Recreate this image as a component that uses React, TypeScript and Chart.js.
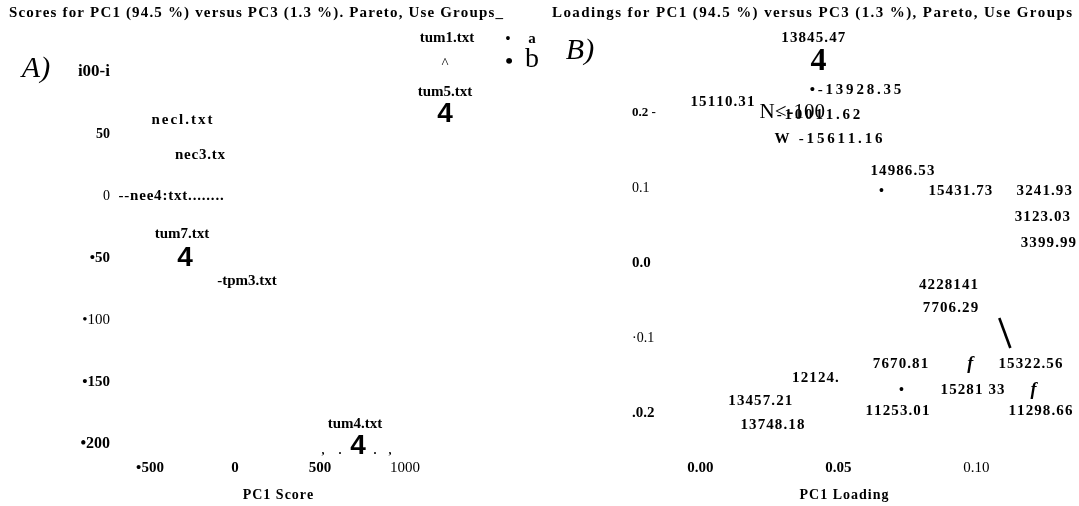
import { useEffect, useRef } from "react";
import { Chart, registerables } from "chart.js";
Chart.register(...registerables);

// ---------- Panel A: scores ----------
const scoreTickValuesY = [100, 50, 0, -50, -100, -150, -200];
const scoreTickLabelsY = ["i00-i", "50", "0", "•50", "•100", "•150", "•200"];
const scoreTickValuesX = [-500, 0, 500, 1000];
const scoreTickLabelsX = ["•500", "0", "500", "1000"];

const scoreTexts = ["tum1.txt", "^", "tum5.txt", "4", "necl.txt", "nec3.tx", "--nee4:txt........", "tum7.txt", "4", "-tpm3.txt", "tum4.txt", "4", ",", ".", ".", ","];
const scoreX = [1247, 1235, 1235, 1235, -312, -206, -376, -312, -294, 71, 706, 724, 518, 618, 824, 912];
const scoreY = [127, 106, 84, 66, 61, 33, 0, -31, -50, -69, -184, -202, -206, -206, -206, -206];
const scoreKinds = ["name", "caret", "name", "marker", "nameWide", "nameMid", "nameMid", "name", "marker", "name", "name", "marker", "tiny", "tiny", "tiny", "tiny"];

// ---------- Panel B: loadings ----------
const loadTickValuesY = [0.2, 0.1, 0, -0.1, -0.2];
const loadTickLabelsY = ["0.2 -", "0.1", "0.0", "·0.1", ".0.2"];
const loadTickValuesX = [0, 0.05, 0.1];
const loadTickLabelsX = ["0.00", "0.05", "0.10"];

const loadTexts = ["13845.47", "4", "•-13928.35", "15110.31", "-10011.62", "N<-100", "W -15611.16", "14986.53", "•", "15431.73", "3241.93", "3123.03", "3399.99", "4228141", "7706.29", "7670.81", "f", "15322.56", "12124.", "•", "15281 33", "f", "13457.21", "11253.01", "11298.66", "13748.18"];
const loadX = [0.0409, 0.0428, 0.0562, 0.008, 0.0428, 0.0333, 0.0464, 0.0732, 0.0656, 0.0942, 0.1246, 0.1239, 0.1261, 0.0899, 0.0906, 0.0725, 0.0978, 0.1196, 0.0417, 0.0728, 0.0986, 0.1207, 0.0217, 0.0714, 0.1232, 0.0261];
const loadY = [0.3, 0.268, 0.231, 0.215, 0.197, 0.201, 0.165, 0.123, 0.095, 0.096, 0.096, 0.061, 0.027, -0.029, -0.06, -0.135, -0.135, -0.135, -0.153, -0.17, -0.17, -0.17, -0.184, -0.198, -0.198, -0.216];
const loadKinds = ["num", "bigMarker", "numSpaced", "num", "numSpaced", "bigNormal", "numSpaced", "num", "dot", "num", "num", "num", "num", "num", "num", "num", "f", "num", "num", "dot", "num", "f", "num", "num", "num", "num"];
const loadStrokeX = [0.1083, 0.1123];
const loadStrokeY = [-0.0733, -0.1133];

// ---------- styles ----------
const SERIF = "'Liberation Serif', 'Times New Roman', serif";
const SANS = "'Liberation Sans', Arial, sans-serif";
const kindStyles: Record<string, { font: string; spacing: number }> = {
  name: { font: `bold 15px ${SERIF}`, spacing: 0 },
  nameWide: { font: `bold 15px ${SERIF}`, spacing: 2 },
  nameMid: { font: `bold 15px ${SERIF}`, spacing: 0.8 },
  marker: { font: `bold 28px ${SANS}`, spacing: 0 },
  caret: { font: `15px ${SERIF}`, spacing: 0 },
  tiny: { font: `bold 12px ${SERIF}`, spacing: 0 },
  num: { font: `bold 15px ${SERIF}`, spacing: 1.1 },
  numSpaced: { font: `bold 15px ${SERIF}`, spacing: 2.8 },
  bigMarker: { font: `bold 32px ${SERIF}`, spacing: 0 },
  bigNormal: { font: `21px ${SERIF}`, spacing: 0 },
  dot: { font: `bold 14px ${SERIF}`, spacing: 0 },
  f: { font: `italic bold 18px ${SERIF}`, spacing: 0 },
};

function drawSpaced(ctx: CanvasRenderingContext2D, text: string, cx: number, cy: number, font: string, spacing: number) {
  ctx.save();
  ctx.font = font;
  ctx.textBaseline = "middle";
  ctx.textAlign = "left";
  ctx.fillStyle = "#000";
  const chars = Array.from(text);
  const widths = chars.map((c) => ctx.measureText(c).width);
  const total = widths.reduce((a, b) => a + b, 0) + spacing * (chars.length - 1);
  let x = cx - total / 2;
  chars.forEach((c, i) => {
    ctx.fillText(c, x, cy);
    x += widths[i] + spacing;
  });
  ctx.restore();
}

function drawFit(ctx: CanvasRenderingContext2D, text: string, x0: number, x1: number, cy: number, font: string) {
  ctx.save();
  ctx.font = font;
  const chars = Array.from(text);
  const natural = chars.reduce((a, c) => a + ctx.measureText(c).width, 0);
  ctx.restore();
  const spacing = (x1 - x0 - natural) / Math.max(chars.length - 1, 1);
  drawSpaced(ctx, text, (x0 + x1) / 2, cy, font, spacing);
}

const textMarksPlugin = {
  id: "textMarks",
  afterDatasetsDraw(chart: any) {
    const ctx = chart.ctx as CanvasRenderingContext2D;
    chart.data.datasets.forEach((ds: any, di: number) => {
      if (!ds.texts) return;
      const meta = chart.getDatasetMeta(di);
      meta.data.forEach((pt: any, i: number) => {
        const st = kindStyles[ds.kinds[i]];
        drawSpaced(ctx, ds.texts[i], pt.x, pt.y, st.font, st.spacing);
      });
    });
  },
};

function decorPlugin(draw: (ctx: CanvasRenderingContext2D) => void) {
  return {
    id: "decor",
    afterDraw(chart: any) {
      draw(chart.ctx);
    },
  };
}

function fixedAxis(size: number, vertical: boolean) {
  return (scale: any) => {
    if (vertical) scale.width = size;
    else scale.height = size;
    scale.paddingTop = 0;
    scale.paddingBottom = 0;
    scale.paddingLeft = 0;
    scale.paddingRight = 0;
  };
}

function setTicks(values: number[]) {
  return (scale: any) => {
    scale.ticks = values.map((v) => ({ value: v }));
  };
}

function makeScale(opts: {
  min: number; max: number; values: number[]; labels: string[]; sizes: number[]; bold: boolean[];
  vertical: boolean; size: number; padding: number; crossAlign?: string;
}) {
  return {
    type: "linear",
    min: opts.min,
    max: opts.max,
    grid: { display: false, drawTicks: false },
    border: { display: false },
    afterBuildTicks: setTicks(opts.values),
    afterFit: fixedAxis(opts.size, opts.vertical),
    ticks: {
      autoSkip: false,
      maxRotation: 0,
      minRotation: 0,
      padding: opts.padding,
      color: "#000",
      crossAlign: opts.crossAlign || "near",
      callback: (_v: any, i: number) => opts.labels[i],
      font: (c: any) => ({
        family: SERIF,
        size: opts.sizes[c.index] ?? 15,
        weight: opts.bold[c.index] ? "bold" : "normal",
      }),
    },
  };
}

export default function App() {
  const leftRef = useRef<HTMLCanvasElement>(null);
  const rightRef = useRef<HTMLCanvasElement>(null);

  useEffect(() => {
    const left = new Chart(leftRef.current!, {
      type: "scatter",
      data: {
        datasets: [
          {
            data: scoreX.map((x, i) => ({ x, y: scoreY[i] })),
            pointRadius: 0,
            texts: scoreTexts,
            kinds: scoreKinds,
          } as any,
        ],
      },
      options: {
        animation: false,
        responsive: false,
        events: [],
        layout: { padding: { top: 10, right: 16, left: 0, bottom: 0 } },
        plugins: { legend: { display: false }, tooltip: { enabled: false }, title: { display: false } },
        scales: {
          x: makeScale({ min: -700, max: 1700, values: scoreTickValuesX, labels: scoreTickLabelsX, sizes: [15, 15, 15, 15], bold: [true, true, true, false], vertical: false, size: 56, padding: 9 }) as any,
          y: makeScale({ min: -205, max: 150, values: scoreTickValuesY, labels: scoreTickLabelsY, sizes: [17, 14, 14, 15, 15, 15, 16], bold: [true, true, false, true, false, true, true], vertical: true, size: 116, padding: 6 }) as any,
        },
      },
      plugins: [
        textMarksPlugin,
        decorPlugin((ctx) => {
          drawFit(ctx, "Scores for PC1 (94.5 %) versus PC3 (1.3 %). Pareto, Use Groups_", 9, 503, 13, `bold 15px ${SERIF}`);
          drawSpaced(ctx, "A)", 36, 69, `italic 30px ${SERIF}`, 0);
          drawSpaced(ctx, "•", 508, 39, `bold 14px ${SERIF}`, 0);
          drawSpaced(ctx, "a", 532, 39, `bold 15px ${SERIF}`, 0);
          drawSpaced(ctx, "•", 509, 62, `bold 22px ${SERIF}`, 0);
          drawSpaced(ctx, "b", 532, 60, `28px ${SERIF}`, 0);
          drawSpaced(ctx, "PC1 Score", 278, 495, `bold 14px ${SERIF}`, 1);
        }),
      ] as any,
    });

    const right = new Chart(rightRef.current!, {
      type: "scatter",
      data: {
        datasets: [
          {
            data: loadX.map((x, i) => ({ x, y: loadY[i] })),
            pointRadius: 0,
            texts: loadTexts,
            kinds: loadKinds,
          } as any,
          {
            data: loadStrokeX.map((x, i) => ({ x, y: loadStrokeY[i] })),
            showLine: true,
            borderColor: "#000",
            borderWidth: 2.6,
            pointRadius: 0,
            clip: false,
          } as any,
        ],
      },
      options: {
        animation: false,
        responsive: false,
        events: [],
        layout: { padding: { top: 8, right: 6, left: 93, bottom: 0 } },
        plugins: { legend: { display: false }, tooltip: { enabled: false }, title: { display: false } },
        scales: {
          x: makeScale({ min: -0.015, max: 0.135, values: loadTickValuesX, labels: loadTickLabelsX, sizes: [15, 15, 15], bold: [true, true, false], vertical: false, size: 55.5, padding: 9 }) as any,
          y: makeScale({ min: -0.25, max: 0.34, values: loadTickValuesY, labels: loadTickLabelsY, sizes: [13, 14, 15, 14, 15], bold: [true, false, true, false, true], vertical: true, size: 27, padding: 6, crossAlign: "far" }) as any,
        },
      },
      plugins: [
        textMarksPlugin,
        decorPlugin((ctx) => {
          drawFit(ctx, "Loadings for PC1 (94.5 %) versus PC3 (1.3 %), Pareto, Use Groups", 13, 533, 13, `bold 15px ${SERIF}`);
          drawSpaced(ctx, "B)", 41, 51, `italic 30px ${SERIF}`, 0);
          drawSpaced(ctx, "PC1 Loading", 305, 495, `bold 14px ${SERIF}`, 1);
        }),
      ] as any,
    });

    return () => {
      left.destroy();
      right.destroy();
    };
  }, []);

  return (
    <div style={{ position: "absolute", left: 0, top: 0, width: 1079, height: 506, background: "#fff", overflow: "hidden" }}>
      <canvas ref={leftRef} width={540} height={506} style={{ position: "absolute", left: 0, top: 0, width: 540, height: 506 }} />
      <canvas ref={rightRef} width={540} height={506} style={{ position: "absolute", left: 539, top: 0, width: 540, height: 506 }} />
    </div>
  );
}
